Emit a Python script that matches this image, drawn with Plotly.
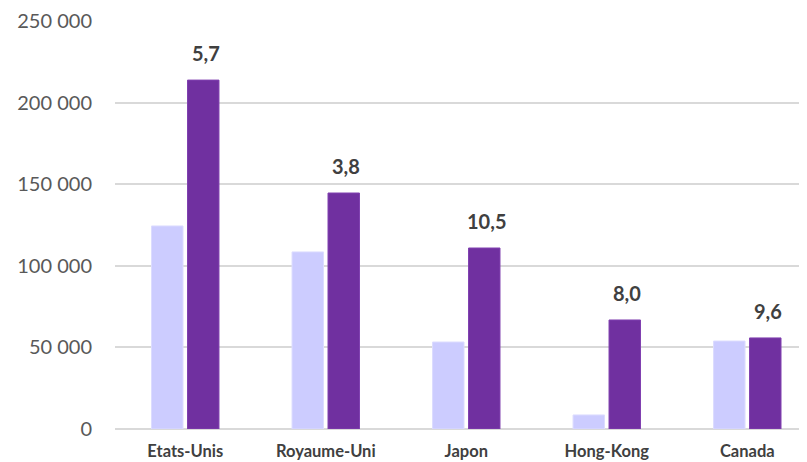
import plotly.graph_objects as go

categories = ["Etats-Unis", "Royaume-Uni", "Japon", "Hong-Kong", "Canada"]
series_prev = [124400, 108500, 53300, 8600, 53900]
series_curr = [213800, 144600, 110900, 66800, 55800]
bar_labels = ["5,7", "3,8", "10,5", "8,0", "9,6"]
y_ticks = [0, 50000, 100000, 150000, 200000, 250000]
y_tick_text = ["0", "50 000", "100 000", "150 000", "200 000", "250 000"]

fig = go.Figure()
fig.add_trace(go.Bar(x=categories, y=series_prev, marker=dict(color="#CCCCFF", line=dict(color="#DCDCFF", width=1)), showlegend=False))
fig.add_trace(go.Bar(x=categories, y=series_curr, marker=dict(color="#7030A0", line=dict(color="#8040B0", width=1)), showlegend=False))

for c, v, t in zip(categories, series_curr, bar_labels):
    fig.add_annotation(x=c, y=v, text="<b>%s</b>" % t, showarrow=False, xref="x", yref="y",
                       xanchor="center", yanchor="bottom", xshift=20.5, yshift=13,
                       font=dict(family="Lato", size=20, color="#404040"))

fig.update_layout(
    width=807, height=462,
    margin=dict(l=107, r=8, t=13, b=41, pad=0, autoexpand=False),
    plot_bgcolor="white", paper_bgcolor="white",
    barmode="group", bargap=0.488, bargroupgap=0.125,
    font=dict(family="Lato", color="#595959"),
)
fig.update_xaxes(range=[-0.5, 4.425], showgrid=False, showline=False, ticks="",
                 automargin=False,
                 tickfont=dict(family="Lato", size=16.5, color="#404040", weight="bold"),
                 ticklabelstandoff=10)
fig.update_yaxes(range=[0, 250000], tickvals=y_ticks, ticktext=y_tick_text,
                 showgrid=True, gridcolor="#D9D9D9", gridwidth=1.5,
                 zeroline=True, zerolinecolor="#D9D9D9", zerolinewidth=1.5,
                 showline=False, ticks="", ticklabelstandoff=22, automargin=False,
                 tickfont=dict(family="Lato", size=20, color="#595959"))

fig.write_html("out.html")
